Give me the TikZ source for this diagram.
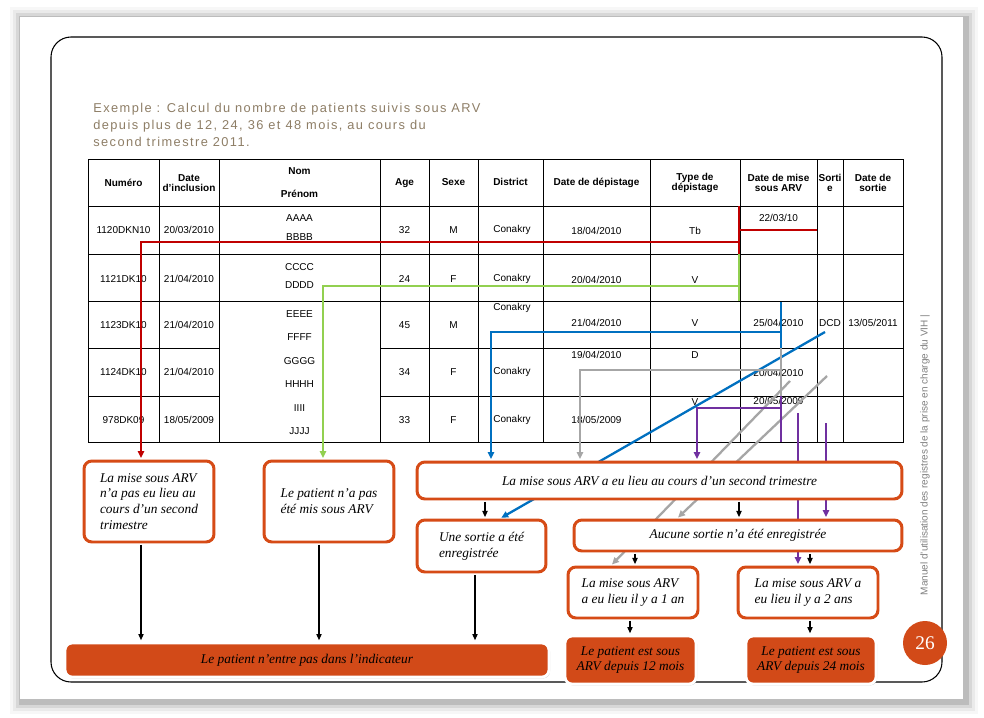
\documentclass[tikz,border=0pt]{standalone}
\usepackage{fontspec}
\setmainfont{Liberation Serif}
\setsansfont{Liberation Sans}
\newfontfamily\hdrfont[LetterSpace=11]{Liberation Sans}
\usetikzlibrary{arrows.meta,shadows}
\definecolor{org}{RGB}{214,75,22}
\definecolor{orgfill}{RGB}{210,74,24}
\definecolor{hdr}{RGB}{142,126,102}
\definecolor{cred}{RGB}{192,0,0}
\definecolor{cgreen}{RGB}{146,208,80}
\definecolor{cblue}{RGB}{0,112,192}
\definecolor{cgray}{RGB}{166,166,166}
\definecolor{cpurple}{RGB}{112,48,160}
\tikzset{
  cell/.style={font=\sffamily\fontsize{5.7}{6.5}\selectfont, inner sep=0pt, align=center},
  hcell/.style={font=\sffamily\bfseries\fontsize{5.7}{6}\selectfont, inner sep=0pt, align=center},
  tline/.style={line width=0.5pt, black},
  obox/.style={draw=org, line width=1.7pt, rounded corners=4.5pt, fill=white, inner sep=0pt,
    font=\itshape\fontsize{7.6}{9}\selectfont},
  lbox/.style={obox, align=left},
  fbox/.style={draw=white, line width=1.6pt, fill=orgfill, rounded corners=4pt, inner sep=0pt,
    drop shadow={opacity=0.4,shadow xshift=0.6pt,shadow yshift=-0.8pt},
    font=\itshape\fontsize{7.6}{9}\selectfont, align=center},
  conn/.style={line width=1.3pt, shorten >=0.8pt, -{Triangle[length=4pt,width=3.6pt]}},
  plain/.style={line width=1.3pt},
  bar/.style={line width=0.6pt, shorten >=0.8pt, shorten <=0.8pt, -{Triangle[length=3.5pt,width=3pt]}},
}
\begin{document}
\begin{tikzpicture}[x=0.02cm,y=-0.02cm]
\useasboundingbox (0,0) rectangle (984,717);
\fill[white] (0,0) rectangle (984,717);
% page shadow
\foreach \i/\o in {12/0.03, 9/0.05, 6/0.08, 3/0.12}
  \fill[black, opacity=\o] (20-\i+2,17-\i+2) rectangle (963+\i+3,699+\i+3);
\fill[white] (20,17) rectangle (963,699);
% frame
\draw[line width=0.6pt, rounded corners=0.4cm] (51,37) rectangle (942,682);

% title
\node[anchor=west, text=hdr, font=\hdrfont\fontsize{7.3}{9.9}\selectfont, align=left, inner sep=0pt] (title) at (93,125)
  {Exemple : Calcul du nombre de patients suivis sous ARV\\depuis plus de 12, 24, 36 et 48 mois, au cours du\\second trimestre 2011.};

% table text
\node[hcell] (h1) at (123.5,183) {Numéro};
\node[hcell] (h2) at (189,183) {Date\\d'inclusion};
\node[hcell] (h3a) at (299.5,171) {Nom};
\node[hcell] (h3b) at (299.5,194) {Prénom};
\node[hcell] (h4) at (404.5,183) {Age};
\node[hcell] (h5) at (453.5,182) {Sexe};
\node[hcell] (h6) at (510.5,182) {District};
\node[hcell] (h7) at (596.5,183) {Date de dépistage};
\node[hcell] (h8) at (695,183) {Type de\\dépistage};
\node[hcell] (h9) at (778.5,183) {Date de mise\\sous ARV};
\node[hcell] (h10) at (830,183) {Sorti\\e};
\node[hcell] (h11) at (873,183) {Date de\\sortie};

\node[cell] (a1) at (123.5,230) {1120DKN10};
\node[cell] (a2) at (189,230) {20/03/2010};
\node[cell] (a3a) at (299.5,218) {AAAA};
\node[cell] (a3b) at (299.5,237) {BBBB};
\node[cell] (a4) at (404.5,230) {32};
\node[cell] (a5) at (453.5,230) {M};
\node[cell] (a6) at (512,230) {Conakry};
\node[cell] (a7) at (596.5,231) {18/04/2010};
\node[cell] (a8) at (695,231) {Tb};
\node[cell] (a9) at (778.5,218) {22/03/10};

\node[cell] (b1) at (123.5,279) {1121DK10};
\node[cell] (b2) at (189,279) {21/04/2010};
\node[cell] (b3a) at (299.5,267) {CCCC};
\node[cell] (b3b) at (299.5,285) {DDDD};
\node[cell] (b4) at (404.5,279) {24};
\node[cell] (b5) at (453.5,279) {F};
\node[cell] (b6) at (512,279) {Conakry};
\node[cell] (b7) at (596.5,280) {20/04/2010};
\node[cell] (b8) at (695,280) {V};

\node[cell] (c1) at (123.5,325) {1123DK10};
\node[cell] (c2) at (189,325) {21/04/2010};
\node[cell] (c3a) at (299.5,314) {EEEE};
\node[cell] (c3b) at (299.5,337) {FFFF};
\node[cell] (c4) at (404.5,325) {45};
\node[cell] (c5) at (453.5,325) {M};
\node[cell] (c6) at (512,308) {Conakry};
\node[cell] (c7) at (596.5,323) {21/04/2010};
\node[cell] (c8) at (695,323) {V};
\node[cell] (c9) at (778.5,323) {25/04/2010};
\node[cell] (c10) at (830,323) {DCD};
\node[cell] (c11) at (873,323) {13/05/2011};

\node[cell] (d1) at (123.5,372) {1124DK10};
\node[cell] (d2) at (189,372) {21/04/2010};
\node[cell] (d3a) at (299.5,361) {GGGG};
\node[cell] (d3b) at (299.5,384) {HHHH};
\node[cell] (d4) at (404.5,372) {34};
\node[cell] (d5) at (453.5,372) {F};
\node[cell] (d6) at (512,372) {Conakry};
\node[cell] (d7) at (596.5,355) {19/04/2010};
\node[cell] (d8) at (695,355) {D};
\node[cell] (d9) at (778.5,373) {20/04/2010};

\node[cell] (e1) at (123.5,420) {978DK09};
\node[cell] (e2) at (189,420) {18/05/2009};
\node[cell] (e3a) at (299.5,408) {IIII};
\node[cell] (e3b) at (299.5,431) {JJJJ};
\node[cell] (e4) at (404.5,420) {33};
\node[cell] (e5) at (453.5,420) {F};
\node[cell] (e6) at (512,420) {Conakry};
\node[cell] (e7) at (596.5,420) {18/05/2009};
\node[cell] (e8) at (695,402) {V};
\node[cell] (e9) at (778.5,401) {20/05/2009};

% table lines
\draw[tline] (88,159) rectangle (903,442);
\foreach \x in {159,219,380,429,478,543,650,740,817,843}
  \draw[tline] (\x,159) -- (\x,442);
\foreach \y in {206,254,301}
  \draw[tline] (88,\y) -- (903,\y);
\foreach \y in {348,396}
  { \draw[tline] (88,\y) -- (219,\y); \draw[tline] (380,\y) -- (903,\y); }

% coordinates for connector x positions
\coordinate (xr) at (141,0);
\coordinate (xg) at (323,0);
\coordinate (xb) at (491,0);
\coordinate (xbd) at (500,0);
\coordinate (xgy) at (580,0);
\coordinate (xg1) at (611,0);
\coordinate (xg2) at (677,0);
\coordinate (xp) at (697,0);
\coordinate (xp2) at (798,0);
\coordinate (xp3) at (826,0);

% upper-left boxes
\node[lbox, minimum width=2.6cm, minimum height=1.62cm] (A) at (149,501.5)
    {La mise sous ARV\\n’a pas eu lieu au\\cours d’un second\\trimestre};
\node[lbox, minimum width=2.6cm, minimum height=1.62cm] (B) at (329,501.5)
    {Le patient n’a pas\\été mis sous ARV};

% colored start points
\coordinate (r1) at (739,206);
\coordinate (r2) at (739,254);
\coordinate (r3) at (817,230);
\coordinate (r4) at (739,230);
\coordinate (r5) at (739,242);
\coordinate (g1) at (739,254);
\coordinate (g2) at (739,301);
\coordinate (g3) at (739,286);
\coordinate (b1s) at (781,302);
\coordinate (b2s) at (781,348);
\coordinate (b3s) at (781,332);
\coordinate (b4s) at (825,332);
\coordinate (y1) at (781,348);
\coordinate (y2) at (781,396);
\coordinate (y3) at (781,370);
\coordinate (y4) at (790,381);
\coordinate (y5) at (827,376);
\coordinate (p1) at (781,396);
\coordinate (p2) at (781,442);
\coordinate (p3) at (781,408);
\coordinate (p4) at (798,413);
\coordinate (p5) at (826,423);

% anchors of the lower boxes (invisible first pass)
\path
  node[obox, draw=none, fill=none, minimum width=9.7cm, minimum height=0.74cm] (C) at (659.5,480.5) {}
  node[obox, draw=none, fill=none, minimum width=2.58cm, minimum height=1.04cm] (D) at (481.5,546) {}
  node[obox, draw=none, fill=none, minimum width=6.56cm, minimum height=0.62cm] (E) at (738,535.5) {}
  node[obox, draw=none, fill=none, minimum width=2.6cm, minimum height=1.02cm] (F) at (633,592.5) {}
  node[obox, draw=none, fill=none, minimum width=2.8cm, minimum height=1.02cm] (G) at (808,592.5) {};

% red
\draw[plain, cred] (r1) -- (r2);
\draw[plain, cred] (r4) -- (r3);
\draw[conn, cred] (r5) -| (A.north -| xr);
% green
\draw[plain, cgreen] (g1) -- (g2);
\draw[conn, cgreen] (g3) -| (B.north -| xg);
% blue
\draw[plain, cblue] (b1s) -- (b2s);
\draw[conn, cblue] (b3s) -| (C.north -| xb);
\draw[conn, cblue] (b4s) -- (D.north -| xbd);
% gray
\draw[plain, cgray] (y1) -- (y2);
\draw[conn, cgray] (y3) -| (C.north -| xgy);
\draw[conn, cgray] (y4) -- (F.north -| xg1);
\draw[conn, cgray] (y5) -- (E.north -| xg2);
% purple
\draw[plain, cpurple] (p1) -- (p2);
\draw[conn, cpurple] (p3) -| (C.north -| xp);
\draw[conn, cpurple] (p4) -- (G.north -| xp2);
\draw[conn, cpurple] (p5) -- (E.north -| xp3);

% visible lower boxes
\node[obox, minimum width=9.7cm, minimum height=0.74cm] (C2) at (C.center)
  {La mise sous ARV a eu lieu au cours d’un second trimestre};
\node[lbox, minimum width=2.58cm, minimum height=1.04cm] (D2) at (D.center)
  {Une sortie a été\\enregistrée};
\node[obox, minimum width=6.56cm, minimum height=0.62cm] (E2) at (E.center)
  {Aucune sortie n’a été enregistrée};
\node[lbox, minimum width=2.6cm, minimum height=1.02cm] (F2) at (F.center)
  {La mise sous ARV\\a eu lieu il y a 1 an};
\node[lbox, minimum width=2.8cm, minimum height=1.02cm] (G2) at (G.center)
  {La mise sous ARV a\\eu lieu il y a 2 ans};

\node[fbox, minimum width=2.62cm, minimum height=0.96cm] (H) at (630.5,660)
  {Le patient est sous\\ARV depuis 12 mois};
\node[fbox, minimum width=2.6cm, minimum height=0.96cm] (I) at (811,660)
  {Le patient est sous\\ARV depuis 24 mois};
\node[fbox, minimum width=9.68cm, minimum height=0.68cm] (J) at (307,660)
  {Le patient n’entre pas dans l’indicateur};

% black arrows
\coordinate (k1) at (485,0);
\coordinate (k2) at (739,0);
\coordinate (k3) at (635,0);
\coordinate (k4) at (810,0);
\coordinate (k5) at (630,0);
\coordinate (k6) at (319,0);
\coordinate (k7) at (475,0);
\draw[bar] (C2.south -| k1) -- (D2.north -| k1);
\draw[bar] (C2.south -| k2) -- (E2.north -| k2);
\draw[bar] (E2.south -| k3) -- (F2.north -| k3);
\draw[bar] (E2.south -| k4) -- (G2.north -| k4);
\draw[bar] (F2.south -| k5) -- (H.north -| k5);
\draw[bar] (G2.south -| k4) -- (I.north -| k4);
\draw[bar] (A.south -| xr) -- (J.north -| xr);
\draw[bar] (B.south -| k6) -- (J.north -| k6);
\draw[bar] (D2.south -| k7) -- (J.north -| k7);

% page number and side text
\node[circle, fill=orgfill, minimum size=0.88cm, text=white, font=\fontsize{11}{12}\selectfont, inner sep=0pt] (pg) at (925,643) {26};
\node[rotate=90, text=black!50, font=\sffamily\fontsize{5.7}{6}\selectfont, inner sep=0pt] (side) at (925,455)
  {Manuel d’utilisation des registres de la prise en charge du VIH |};
\end{tikzpicture}
\end{document}
